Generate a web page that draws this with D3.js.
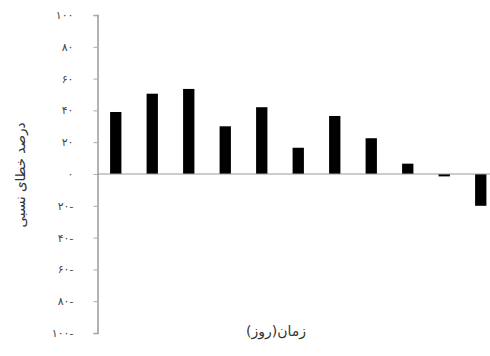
<!DOCTYPE html>
<html>
<head>
<meta charset="utf-8">
<script src="https://cdn.jsdelivr.net/npm/d3@7"></script>
<style>
  body { margin: 0; background: #fff; }
  text { font-family: "DejaVu Sans", sans-serif; }
</style>
</head>
<body>
<div id="chart-area"></div>
<script>
// Data
const days = [1, 2, 3, 4, 5, 6, 7, 8, 9, 10, 11];
const errors = [39, 50.5, 53.5, 30, 42, 16.5, 36.5, 22.5, 6.5, -1.5, -20];
const tickValues = [100, 80, 60, 40, 20, 0, -20, -40, -60, -80, -100];

// Persian digits
const fa = ['۰', '۱', '۲', '۳', '۴', '۵', '۶', '۷', '۸', '۹'];
const toFa = (v) => {
    const s = String(Math.abs(v)).replace(/\d/g, (c) => fa[+c]);
    return v < 0 ? s + '-' : s;
};

const width = 490;
const height = 356;

const svg = d3.select('#chart-area')
    .append('svg')
        .attr('width', width)
        .attr('height', height);

// Scales
const x = d3.scaleBand()
    .domain(days)
    .range([97.5, 499])
    .paddingInner(0.69)
    .paddingOuter(0.345);

const y = d3.scaleLinear()
    .domain([-100, 100])
    .range([333, 15]);

// Y Axis
const yAxisCall = d3.axisLeft(y)
    .tickValues(tickValues)
    .tickSize(4)
    .tickPadding(20)
    .tickFormat(toFa);

const yAxisGroup = svg.append('g')
    .attr('transform', 'translate(97.5, 0)')
    .call(yAxisCall);

yAxisGroup.select('.domain')
    .attr('stroke', '#999')
    .attr('stroke-width', 1.5);
yAxisGroup.selectAll('.tick line')
    .attr('stroke', '#aaa');
yAxisGroup.selectAll('.tick text')
    .attr('fill', '#444')
    .attr('font-size', '11px');

// Bars
svg.selectAll('rect')
    .data(days)
    .enter()
    .append('rect')
        .attr('x', (d) => x(d))
        .attr('width', x.bandwidth())
        .attr('y', (d, i) => y(Math.max(0, errors[i])))
        .attr('height', (d, i) => Math.abs(y(errors[i]) - y(0)))
        .attr('fill', '#000');

// Zero line
svg.append('line')
    .attr('x1', 97.5)
    .attr('x2', width)
    .attr('y1', y(0))
    .attr('y2', y(0))
    .attr('stroke', '#999')
    .attr('stroke-width', 1.2);

// X Label
svg.append('text')
    .attr('x', 276)
    .attr('y', 336)
    .attr('font-size', '14px')
    .attr('text-anchor', 'middle')
    .attr('fill', '#333')
    .attr('direction', 'rtl')
    .text('زمان(روز)');

// Y Label
svg.append('text')
    .attr('x', -175)
    .attr('y', 25)
    .attr('font-size', '13.5px')
    .attr('text-anchor', 'middle')
    .attr('fill', '#333')
    .attr('direction', 'rtl')
    .attr('transform', 'rotate(-90)')
    .text('درصد خطای نسبی');
</script>
</body>
</html>
